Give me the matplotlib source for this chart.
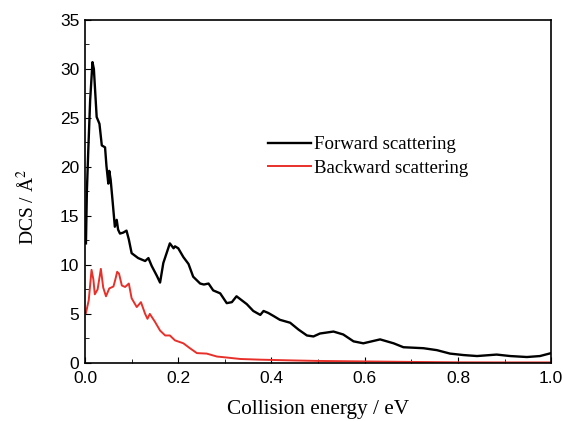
import numpy as np
import matplotlib.pyplot as plt
from matplotlib.ticker import MultipleLocator

# forward scattering (black)
fwd_e = [0.002, 0.004, 0.007, 0.011, 0.016, 0.019, 0.025, 0.031, 0.036, 0.043,
         0.046, 0.050, 0.052, 0.055, 0.059, 0.064, 0.068, 0.071, 0.075, 0.082,
         0.089, 0.094, 0.100, 0.114, 0.129, 0.136, 0.143, 0.154, 0.161, 0.168,
         0.175, 0.182, 0.190, 0.193, 0.200, 0.211, 0.222, 0.232, 0.247, 0.255,
         0.265, 0.275, 0.290, 0.304, 0.315, 0.325, 0.336, 0.347, 0.361, 0.376,
         0.383, 0.393, 0.404, 0.418, 0.440, 0.458, 0.476, 0.490, 0.504, 0.533,
         0.554, 0.576, 0.597, 0.633, 0.662, 0.683, 0.726, 0.755, 0.783, 0.812,
         0.841, 0.883, 0.912, 0.948, 0.976, 1.000]
fwd_dcs = [12.2, 17.5, 21.7, 26.8, 30.7, 30.0, 25.1, 24.4, 22.2, 22.0,
           20.1, 18.3, 19.6, 18.7, 16.6, 13.9, 14.6, 13.6, 13.2, 13.3,
           13.5, 12.6, 11.2, 10.7, 10.4, 10.7, 9.9, 8.9, 8.2, 10.2,
           11.2, 12.2, 11.7, 11.9, 11.7, 10.8, 10.1, 8.8, 8.1, 8.0,
           8.1, 7.4, 7.1, 6.1, 6.2, 6.8, 6.4, 6.0, 5.3, 4.9,
           5.3, 5.1, 4.8, 4.4, 4.1, 3.4, 2.8, 2.7, 3.0, 3.2,
           2.9, 2.2, 2.0, 2.4, 2.0, 1.6, 1.5, 1.3, 0.95, 0.8,
           0.7, 0.85, 0.7, 0.6, 0.7, 1.0]

# backward scattering (red)
bwd_e = [0.002, 0.008, 0.014, 0.018, 0.021, 0.027, 0.034, 0.039, 0.045, 0.052,
         0.061, 0.065, 0.069, 0.073, 0.079, 0.086, 0.094, 0.100, 0.111, 0.120,
         0.129, 0.134, 0.139, 0.150, 0.161, 0.172, 0.182, 0.193, 0.211, 0.225,
         0.240, 0.261, 0.283, 0.304, 0.333, 0.376, 0.447, 0.500, 0.600, 0.700,
         0.800, 0.900, 1.000]
bwd_dcs = [5.1, 6.4, 9.5, 8.5, 7.0, 7.5, 9.6, 7.7, 6.8, 7.6,
           7.8, 8.5, 9.3, 9.1, 7.9, 7.75, 8.1, 6.6, 5.7, 6.2,
           5.0, 4.5, 5.0, 4.2, 3.3, 2.8, 2.8, 2.3, 2.0, 1.5,
           1.0, 0.95, 0.65, 0.55, 0.4, 0.33, 0.25, 0.2, 0.15, 0.1,
           0.06, 0.05, 0.05]

plt.rcParams['mathtext.fontset'] = 'stix'

fig, ax = plt.subplots(figsize=(5.63, 4.21), dpi=100)
plt.subplots_adjust(left=0.151, right=0.979, top=0.9525, bottom=0.138)

ax.plot(fwd_e, fwd_dcs, color='black', lw=1.7, label='Forward scattering')
ax.plot(bwd_e, bwd_dcs, color='#e8302a', lw=1.4, label='Backward scattering')

ax.set_xlim(0, 1.0)
ax.set_ylim(0, 35)
ax.xaxis.set_major_locator(MultipleLocator(0.2))
ax.xaxis.set_minor_locator(MultipleLocator(0.1))
ax.yaxis.set_major_locator(MultipleLocator(5))
ax.yaxis.set_minor_locator(MultipleLocator(2.5))
ax.xaxis.set_major_formatter(plt.FuncFormatter(lambda v, p: f'{v:.1f}'))
ax.yaxis.set_major_formatter(plt.FuncFormatter(lambda v, p: f'{v:.0f}'))
ax.tick_params(which='both', direction='in', top=False, right=False)
ax.tick_params(which='major', length=4, labelsize=12.5)
ax.tick_params(which='minor', length=3)
ax.tick_params(axis='x', which='major', pad=6)
ax.tick_params(axis='y', which='major', pad=4)
for lab in ax.get_xticklabels() + ax.get_yticklabels():
    lab.set_family('Liberation Sans')
for s in ax.spines.values():
    s.set_linewidth(1.2)

ax.set_xlabel('Collision energy / eV', family='Liberation Serif', fontsize=15.3, labelpad=10)
ax.set_ylabel(r'DCS / Å$^2$', family='Liberation Serif', fontsize=14)
ax.yaxis.set_label_coords(-0.101, 0.455)

ax.legend(loc='center left', bbox_to_anchor=(0.376, 0.602), frameon=False,
          borderaxespad=0, handlelength=2.3, handletextpad=0.16, labelspacing=0.34,
          prop={'family': 'Liberation Serif', 'size': 13.6})

plt.savefig('out.png')
